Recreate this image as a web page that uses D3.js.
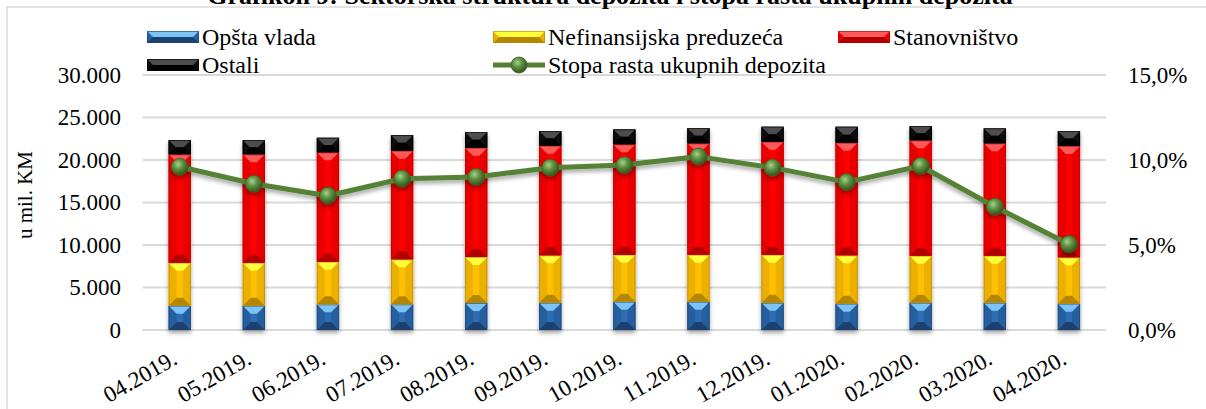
<!DOCTYPE html>
<html>
<head>
<meta charset="utf-8">
<script src="https://cdn.jsdelivr.net/npm/d3@7"></script>
<style>
  html, body { margin: 0; padding: 0; background: #fff; }
  svg { display: block; }
  text { font-family: "Liberation Serif", "Times New Roman", serif; fill: #000; }
</style>
</head>
<body>
<svg id="chart" width="1206" height="409"></svg>
<script>
// data (mil. KM and %)
const months = ["04.2019.", "05.2019.", "06.2019.", "07.2019.", "08.2019.", "09.2019.", "10.2019.",
  "11.2019.", "12.2019.", "01.2020.", "02.2020.", "03.2020.", "04.2020."];
const opstaVlada = [2860, 2860, 3020, 3020, 3180, 3210, 3330, 3330, 3210, 3100, 3210, 3210, 3100];
const nefinansijska = [5060, 5060, 5020, 5290, 5410, 5570, 5530, 5530, 5650, 5680, 5540, 5540, 5450];
const stanovnistvo = [12750, 12750, 12860, 12790, 12860, 12910, 12980, 13100, 13300, 13260, 13560, 13210, 13100];
const ostali = [1680, 1680, 1720, 1840, 1840, 1720, 1770, 1800, 1760, 1880, 1690, 1770, 1760];
const stopaRasta = [9.6, 8.6, 7.9, 8.9, 9.0, 9.55, 9.7, 10.2, 9.55, 8.7, 9.65, 7.25, 5.05];
const leftTicks = [0, 5000, 10000, 15000, 20000, 25000, 30000];
const rightTicks = [0, 5, 10, 15];

const series = [
  { key: "opsta", name: "Opšta vlada", values: opstaVlada, main: "#2e6db3", light: "#7cc3f7", dark: "#1b416f", side: "#285f9d" },
  { key: "nefin", name: "Nefinansijska preduzeća", values: nefinansijska, main: "#ffc000", light: "#ffff3a", dark: "#b58700", side: "#ecb000" },
  { key: "stan", name: "Stanovništvo", values: stanovnistvo, main: "#ff0000", light: "#ff5a5a", dark: "#b20000", side: "#e80000" },
  { key: "ost", name: "Ostali", values: ostali, main: "#151515", light: "#4d4d4d", dark: "#000000", side: "#0a0a0a" },
];
const lineColor = "#548235";
const serif = "Liberation Serif";

const svg = d3.select("#chart");
const defs = svg.append("defs");
defs.append("filter").attr("id", "shadow").attr("x", "-30%").attr("y", "-30%").attr("width", "160%").attr("height", "160%")
  .append("feDropShadow").attr("dx", 0).attr("dy", 3).attr("stdDeviation", 2)
  .attr("flood-color", "#000").attr("flood-opacity", 0.35);
const rg = defs.append("radialGradient").attr("id", "marker").attr("cx", "40%").attr("cy", "35%").attr("r", "65%");
rg.append("stop").attr("offset", "0%").attr("stop-color", "#a8d08d");
rg.append("stop").attr("offset", "45%").attr("stop-color", "#5e9140");
rg.append("stop").attr("offset", "100%").attr("stop-color", "#34521f");

const x0 = 142.7, x1 = 1106, yTop = 75, yBot = 330;
const x = d3.scaleBand().domain(months).range([x0, x1]).padding(0);
const y = d3.scaleLinear().domain([0, 30000]).range([yBot, yTop]);
const yr = d3.scaleLinear().domain([0, 15]).range([yBot, yTop]);
const barW = x.bandwidth() * 0.3;

// frame and title
svg.append("rect").attr("x", 7).attr("y", 7).attr("width", 1220).attr("height", 420)
  .attr("fill", "none").attr("stroke", "#d9d9d9").attr("stroke-width", 1.5);
svg.append("text").attr("x", 610).attr("y", 4).attr("text-anchor", "middle")
  .attr("font-family", serif).attr("font-size", 26).attr("font-weight", "bold")
  .text("Grafikon 9: Sektorska struktura depozita i stopa rasta ukupnih depozita");

// gridlines
svg.append("g").selectAll("line").data(leftTicks).join("line")
  .attr("x1", x0).attr("x2", x1).attr("y1", (d) => y(d)).attr("y2", (d) => y(d))
  .attr("stroke", "#d9d9d9").attr("stroke-width", 2);

// axes
const fmtLeft = (d) => d === 0 ? "0" : d3.format(",")(d).replace(/,/g, ".");
const leftAxis = svg.append("g").attr("transform", "translate(121,0)")
  .call(d3.axisLeft(y).tickValues(leftTicks).tickFormat(fmtLeft).tickSize(0).tickPadding(0));
const rightAxis = svg.append("g").attr("transform", "translate(1128,0)")
  .call(d3.axisRight(yr).tickValues(rightTicks).tickFormat((d) => d.toFixed(1).replace(".", ",") + "%").tickSize(0).tickPadding(0));
const bottomAxis = svg.append("g").attr("transform", `translate(0,${yBot})`)
  .call(d3.axisBottom(x).tickSize(0).tickPadding(0));
[leftAxis, rightAxis, bottomAxis].forEach((g) => {
  g.attr("font-family", serif).attr("font-size", 23);
  g.select(".domain").remove();
  g.selectAll("text").attr("font-family", serif).attr("font-size", 23).attr("fill", "#000");
});
bottomAxis.selectAll("text")
  .attr("text-anchor", "end").attr("dy", 0).attr("y", 0)
  .attr("transform", "translate(-1,33) rotate(-30)");

svg.append("text").attr("transform", "translate(32,195) rotate(-90)").attr("text-anchor", "middle")
  .attr("font-family", serif).attr("font-size", 21).text("u mil. KM");

// bevelled segment
function bevel(g, bx, by, w, h, s) {
  const d = Math.min(8, w / 2, h / 2);
  const xa = bx, xb = bx + w, ya = by, yb = by + h;
  g.append("rect").attr("x", xa).attr("y", ya).attr("width", w).attr("height", h).attr("fill", s.main);
  g.append("polygon").attr("points", [[xa, ya], [xa + d, ya + d], [xa + d, yb - d], [xa, yb]].join(" ")).attr("fill", s.side);
  g.append("polygon").attr("points", [[xb, ya], [xb - d, ya + d], [xb - d, yb - d], [xb, yb]].join(" ")).attr("fill", s.side);
  g.append("polygon").attr("points", [[xa, ya], [xb, ya], [xb - d, ya + d], [xa + d, ya + d]].join(" ")).attr("fill", s.light);
  g.append("polygon").attr("points", [[xa, yb], [xb, yb], [xb - d, yb - d], [xa + d, yb - d]].join(" ")).attr("fill", s.dark);
  g.append("rect").attr("x", xa + 0.5).attr("y", ya + 0.5).attr("width", w - 1).attr("height", Math.max(0, h - 1))
    .attr("fill", "none").attr("stroke", s.dark).attr("stroke-opacity", 0.6).attr("stroke-width", 1);
}

const stack = d3.stack().keys(series.map((s) => s.key))(
  months.map((m, i) => Object.fromEntries(series.map((s) => [s.key, s.values[i]])))
);
const bars = svg.append("g").attr("filter", "url(#shadow)");
stack.forEach((layer, li) => {
  layer.forEach((seg, i) => {
    const bx = x(months[i]) + (x.bandwidth() - barW) / 2;
    bevel(bars, bx, y(seg[1]), barW, y(seg[0]) - y(seg[1]), series[li]);
  });
});

// growth line
const cx = (i) => x(months[i]) + x.bandwidth() / 2;
const lg = svg.append("g").attr("filter", "url(#shadow)");
lg.append("path").datum(stopaRasta)
  .attr("d", d3.line().x((d, i) => cx(i)).y((d) => yr(d)))
  .attr("fill", "none").attr("stroke", lineColor).attr("stroke-width", 5).attr("stroke-linejoin", "round");
lg.selectAll("circle").data(stopaRasta).join("circle")
  .attr("cx", (d, i) => cx(i)).attr("cy", (d) => yr(d)).attr("r", 8.5)
  .attr("fill", "url(#marker)").attr("stroke", "#3d6128").attr("stroke-width", 0.8);

// legend
const legendItems = [
  { s: series[0], x: 147, y: 37 }, { s: series[1], x: 493, y: 37 }, { s: series[2], x: 838, y: 37 },
  { s: series[3], x: 147, y: 65 }, { line: true, name: "Stopa rasta ukupnih depozita", x: 493, y: 65 },
];
const leg = svg.append("g");
legendItems.forEach((it) => {
  if (it.line) {
    leg.append("line").attr("x1", it.x).attr("x2", it.x + 52).attr("y1", it.y).attr("y2", it.y)
      .attr("stroke", lineColor).attr("stroke-width", 5);
    leg.append("circle").attr("cx", it.x + 26).attr("cy", it.y).attr("r", 8)
      .attr("fill", "url(#marker)").attr("stroke", "#3d6128").attr("stroke-width", 0.8);
  } else {
    const g = leg.append("g");
    bevel(g, it.x, it.y - 6, 52, 12, it.s);
  }
  leg.append("text").attr("x", it.x + 55).attr("y", it.y + 8).attr("font-family", serif).attr("font-size", 24)
    .text(it.line ? it.name : it.s.name);
});
</script>
</body>
</html>
